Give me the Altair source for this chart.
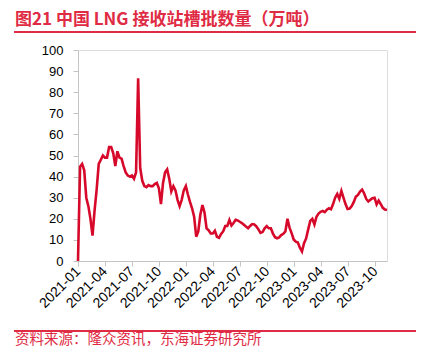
import altair as alt
import pandas as pd

start_date = "2021-01-01"
n_weeks = 150
values = [
    0, 44.7, 46, 43, 30, 26, 20, 12, 24, 34,
    46, 48, 50, 49, 49, 54, 54, 51, 45, 52,
    49, 48.5, 45, 42, 40.5, 40, 40.5, 39, 42, 86.6,
    44, 38, 35.5, 35, 36, 35.5, 35.5, 36.5, 37, 34.5,
    27, 37, 42, 43.4, 39, 33, 35.5, 33.5, 29, 26,
    29, 33.5, 35.5, 31.5, 28, 25, 21, 11.5, 14, 22,
    26.5, 23, 15.5, 14.5, 13, 13, 14.3, 11.5, 11, 12.8,
    14, 16.6, 16.6, 19.4, 16.8, 18, 19.5, 19.2, 18.6, 18,
    17.2, 16.3, 15.5, 16.6, 17.5, 17.3, 16.4, 15, 13.3, 13.7,
    15.5, 16.5, 15.5, 15.5, 13, 11.3, 10.8, 11.2, 12.3, 12.9,
    14, 20, 15.8, 13.2, 10.2, 9.2, 8.8, 6.3, 4.5, 8.4,
    10.7, 15, 19, 20, 17.3, 21, 22.5, 23.3, 23.7, 23.2,
    24.3, 25, 24.5, 27, 30, 31.8, 29.5, 33.2, 30, 27,
    24.6, 24.8, 26, 28, 30.5, 31.3, 32.9, 33.8, 32, 29.4,
    28.2, 29, 29.8, 30, 26.8, 28.6, 27, 25.2, 24.4, 24.2,
]
tick_labels = ["2021-01", "2021-04", "2021-07", "2021-10", "2022-01", "2022-04",
               "2022-07", "2022-10", "2023-01", "2023-04", "2023-07", "2023-10"]
y_ticks = list(range(0, 101, 10))
title_text = "图21  中国 LNG 接收站槽批数量（万吨）"
source_text = "资料来源：隆众资讯，东海证券研究所"

dates = pd.date_range(start_date, periods=n_weeks, freq="7D").strftime("%Y-%m-%d")
df = pd.DataFrame({"date": dates, "value": values})

tick_values = [alt.DateTime(year=int(t[:4]), month=int(t[5:]), date=1, utc=True) for t in tick_labels]
x_domain = [alt.DateTime(year=2021, month=1, date=1, utc=True),
            alt.DateTime(year=2023, month=11, date=10, utc=True)]

RED = "#D7092B"
TITLE_RED = "#E02B44"
GRAY = "#C4C4C4"

line = alt.Chart(df).mark_line(color=RED, strokeWidth=2.6, clip=False).encode(
    x=alt.X("date:T",
            scale=alt.Scale(type="utc", domain=x_domain, nice=False),
            axis=alt.Axis(values=tick_values, format="%Y-%m", labelAngle=-45,
                          labelAlign="right", labelBaseline="middle",
                          title=None, grid=False, domainColor=GRAY, tickColor=GRAY,
                          tickSize=5, labelPadding=3, labelFont="Liberation Sans",
                          labelFontSize=14, labelColor="#000000", labelOverlap=False)),
    y=alt.Y("value:Q",
            scale=alt.Scale(domain=[0, 100], nice=False),
            axis=alt.Axis(values=y_ticks, title=None, grid=False, domainColor=GRAY,
                          tickColor=GRAY, tickSize=5, labelPadding=10,
                          labelFont="Liberation Sans", labelFontSize=13,
                          labelColor="#000000")),
)

tdf = pd.DataFrame({"t": [title_text], "s": [source_text]})
title = alt.Chart(tdf).mark_text(
    align="left", baseline="alphabetic", font="Noto Sans CJK SC", fontSize=17,
    fontWeight="bold", color=TITLE_RED
).encode(x=alt.value(-63), y=alt.value(-25), text="t:N")

source = alt.Chart(tdf).mark_text(
    align="left", baseline="top", font="Noto Sans CJK SC", fontSize=14.5,
    color=TITLE_RED
).encode(x=alt.value(-63), y=alt.value(283), text="s:N")

rule_top = alt.Chart(tdf).mark_rule(color=TITLE_RED, strokeWidth=2).encode(
    x=alt.value(-64), x2=alt.value(338), y=alt.value(-18))
rule_bot = alt.Chart(tdf).mark_rule(color=TITLE_RED, strokeWidth=2).encode(
    x=alt.value(-64), x2=alt.value(338), y=alt.value(281))

chart = alt.layer(line, title, source, rule_top, rule_bot).properties(
    width=309, height=211,
    autosize=alt.AutoSizeParams(type="none"),
    padding={"left": 78, "top": 50, "right": 41, "bottom": 87},
).configure_view(stroke=None).configure(background="white")

chart.save("out.html", embed_options={"renderer": "svg", "actions": False})
